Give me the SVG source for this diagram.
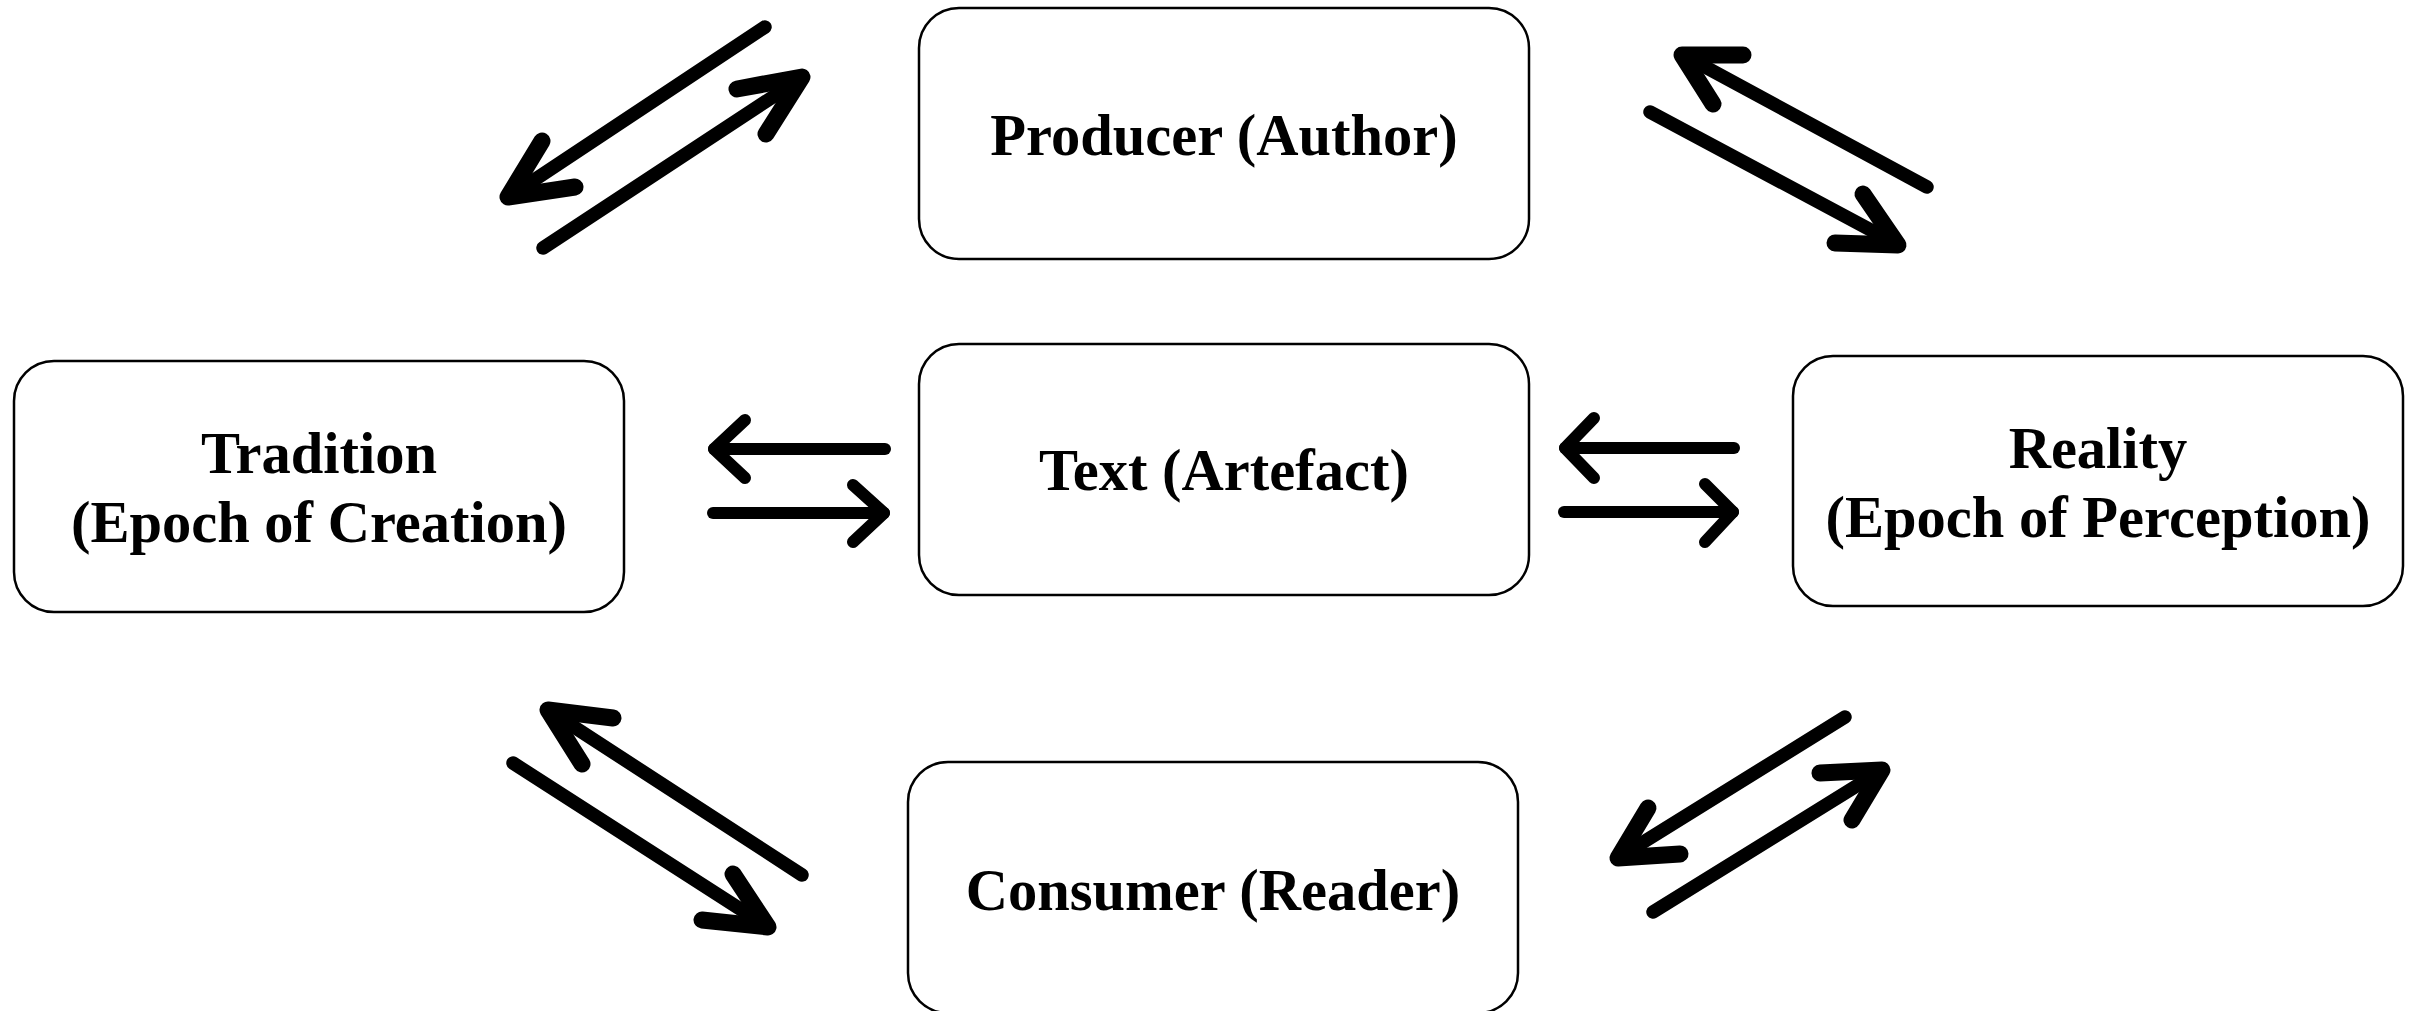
<svg xmlns="http://www.w3.org/2000/svg" width="2417" height="1011" viewBox="0 0 2417 1011">
<style>
.box{fill:#fff;stroke:#000;stroke-width:2.5}
.lbl{font-family:"Liberation Serif","Times New Roman",serif;font-weight:bold;font-size:58.5px;fill:#000;text-anchor:middle}
.sh{fill:none;stroke:#000;stroke-linecap:round;stroke-linejoin:round}
.h{stroke-width:12}
.d{stroke-width:13.5}
.dh{stroke-width:17}
</style>
<rect width="2417" height="1011" fill="#fff"/>
<g id="producer"><rect class="box" x="919" y="8" width="610" height="251" rx="40"/><text class="lbl" x="1224" y="155">Producer (Author)</text></g>
<g id="text"><rect class="box" x="919" y="344" width="610" height="251" rx="40"/><text class="lbl" x="1224" y="490">Text (Artefact)</text></g>
<g id="tradition"><rect class="box" x="14" y="361" width="610" height="251" rx="40"/><text class="lbl" x="319" y="473">Tradition</text><text class="lbl" x="319" y="542">(Epoch of Creation)</text></g>
<g id="reality"><rect class="box" x="1793" y="356" width="610" height="250" rx="40"/><text class="lbl" x="2098" y="468">Reality</text><text class="lbl" x="2098" y="537">(Epoch of Perception)</text></g>
<g id="consumer"><rect class="box" x="908" y="762" width="610" height="251" rx="40"/><text class="lbl" x="1213" y="910">Consumer (Reader)</text></g>
<g id="connectors">
<path class="sh h" d="M885 449H714"/><path class="sh h" d="M745 420L714 449L745 478"/>
<path class="sh h" d="M713 513H884"/><path class="sh h" d="M853 485L884 513L853 542"/>
<path class="sh h" d="M1734 448H1565"/><path class="sh h" d="M1594 418L1565 448L1594 478"/>
<path class="sh h" d="M1564 512H1733"/><path class="sh h" d="M1705 484L1733 512L1705 542"/>
<path class="sh d" d="M765 27L510 196"/><path class="sh dh" d="M542 141L508 197L575 187"/>
<path class="sh d" d="M543 248L800 79"/><path class="sh dh" d="M737 89L802 77L766 134"/>
<path class="sh d" d="M1927 187L1685 56"/><path class="sh dh" d="M1743 55L1682 55L1713 104"/>
<path class="sh d" d="M1650 112L1895 243"/><path class="sh dh" d="M1863 194L1898 245L1835 243"/>
<path class="sh d" d="M802 875L551 712"/><path class="sh dh" d="M613 718L548 710L582 764"/>
<path class="sh d" d="M513 763L765 925"/><path class="sh dh" d="M733 874L768 927L702 920"/>
<path class="sh d" d="M1845 717L1621 856"/><path class="sh dh" d="M1648 808L1618 858L1680 854"/>
<path class="sh d" d="M1653 912L1879 772"/><path class="sh dh" d="M1820 773L1882 770L1852 820"/>
</g>
</svg>
